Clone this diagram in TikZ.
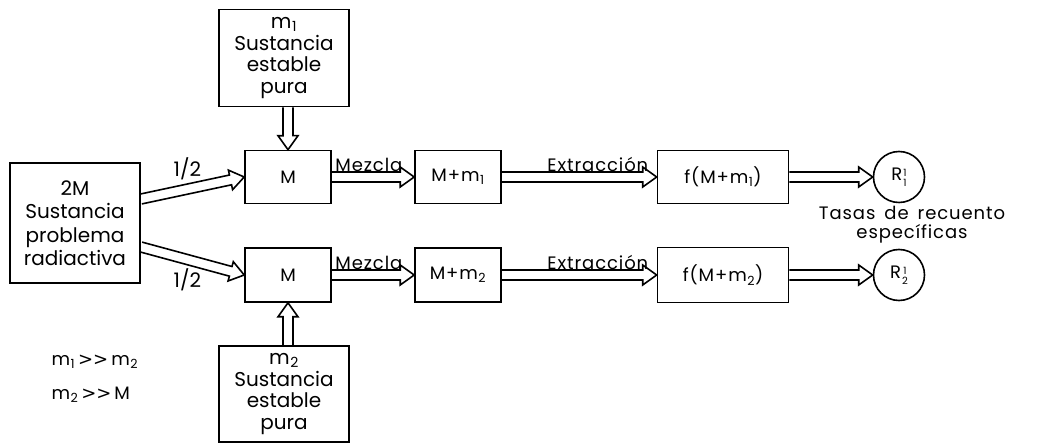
\documentclass[tikz,border=0pt]{standalone}
\usepackage{fontspec}
\setmainfont{Poppins}
\newfontfamily\simb{DejaVu Sans}
\usetikzlibrary{calc,positioning}

\newcommand{\bajo}[1]{\kern0.5pt\textsubscript{#1}}
\newcommand{\ambos}[2]{\kern1pt\raisebox{-0.65ex}{\fontsize{10}{12}\selectfont\shortstack{#1\\#2}}}
\newcommand{\espaciado}{\spaceskip=9pt\relax}
\newcommand{\mayor}{\,{\simb >\kern0pt>}\,}

\begin{document}
\begin{tikzpicture}[x=1pt,y=-1pt,
  grande/.style={font=\fontsize{20}{21.5}\selectfont},
  chica/.style={font=\fontsize{18}{19}\selectfont\addfontfeature{LetterSpace=5}},
  caja/.style={draw,line width=1.6pt,align=center,inner sep=0pt},
  rotulo/.style={chica,inner sep=1.5pt},
  flecha/.style={line width=1.6pt,line join=miter,to path={
    let \p1=(\tikztostart), \p2=(\tikztotarget),
        \n1={atan2(\y2-\y1,\x2-\x1)}, \n2={veclen(\x2-\x1,\y2-\y1)} in
    (\p1) ++(\n1+90:5pt) -- ++(\n1:{\n2*1pt-14pt}) -- ++(\n1+90:5pt) -- (\p2)
    -- ++(\n1+215.54:17.2pt) -- ++(\n1+90:5pt) -- ++(\n1+180:{\n2*1pt-14pt})}}]
\useasboundingbox (0,0) rectangle (1037,443);

\node[caja,grande,minimum width=130pt,minimum height=120pt,font=\fontsize{20}{23.5}\selectfont] (fuente) at (75,223)
  {2M\\Sustancia\\problema\\radiactiva};
\node[caja,grande,minimum width=130pt,minimum height=97pt] (est1) at (284,58)
  {m\bajo{1}\\Sustancia\\estable\\pura};
\node[caja,grande,minimum width=130pt,minimum height=96pt] (est2) at (284,394)
  {m\bajo{2}\\Sustancia\\estable\\pura};

\node[caja,chica,minimum width=86pt,minimum height=53pt] (M1) at (288,177) {M};
\node[caja,chica,minimum width=86pt,minimum height=54pt] (M2) at (288,275) {M};
\node[caja,chica,minimum width=86pt,minimum height=53pt] (mez1) at (458,177) {M+m\bajo{1}};
\node[caja,chica,minimum width=86pt,minimum height=54pt] (mez2) at (458,275) {M+m\bajo{2}};
\node[caja,chica,minimum width=131pt,minimum height=53pt] (ext1) at (723,177) {f(M+m\bajo{1})};
\node[caja,chica,minimum width=131pt,minimum height=55pt] (ext2) at (723,275) {f(M+m\bajo{2})};
\node[caja,chica,circle,minimum size=51pt] (R1) at (899,177) {R\ambos{1}{1}};
\node[caja,chica,circle,minimum size=51pt] (R2) at (899,275) {R\ambos{1}{2}};

\node[chica,align=center,text depth=0pt] (tasas) at (912,222)
  {\espaciado Tasas de recuento\\específicas};
\node[chica,anchor=west] (rel1) at (48,362) {m\bajo{1}\mayor m\bajo{2}};
\node[chica,anchor=west] (rel2) at (48,395) {m\bajo{2}\mayor M};

\draw[flecha] (est1.south -| M1.north) to (M1.north);
\draw[flecha] (est2.north -| M2.south) to (M2.south);
\draw[flecha] (fuente.20) to (M1.west);
\draw[flecha] (fuente.-20) to (M2.west);
\draw[flecha] (M1.east) to (mez1.west);
\draw[flecha] (M2.east) to (mez2.west);
\draw[flecha] (mez1.east) to (ext1.west);
\draw[flecha] (mez2.east) to (ext2.west);
\draw[flecha] (ext1.east) to (R1.west);
\draw[flecha] (ext2.east) to (R2.west);

\path (fuente.20) -- node[above,grande,pos=0.45,yshift=6pt] {1/2} (M1.west);
\path (fuente.-20) -- node[below,grande,pos=0.45,yshift=-6pt] {1/2} (M2.west);
\path (M1.east) -- node[rotulo,above,pos=0.45,yshift=4pt] {Mezcla} (mez1.west);
\path (M2.east) -- node[rotulo,above,pos=0.45,yshift=4pt] {Mezcla} (mez2.west);
\path (mez1.east) -- node[rotulo,above,pos=0.62,yshift=4pt] {Extracción} (ext1.west);
\path (mez2.east) -- node[rotulo,above,pos=0.62,yshift=4pt] {Extracción} (ext2.west);
\end{tikzpicture}
\end{document}
